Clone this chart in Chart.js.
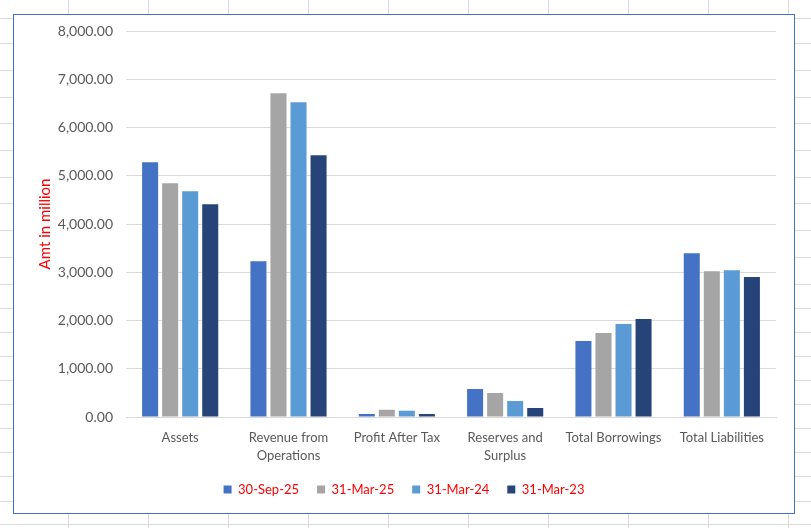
<!DOCTYPE html>
<html>
<head>
<meta charset="utf-8">
<script src="https://cdn.jsdelivr.net/npm/chart.js@4.4.1/dist/chart.umd.min.js"></script>
<style>
  html, body { margin: 0; padding: 0; background: #ffffff; }
  body { width: 811px; height: 528px; position: relative; overflow: hidden; }
  #sheet { position: absolute; left: 0; top: 0; }
  #box { position: absolute; left: 13px; top: 14px; width: 780px; height: 498px; border: 1px solid #4472C4; background: #ffffff; }
  #wrap { position: absolute; left: 0; top: 0; width: 780px; height: 498px; }
</style>
</head>
<body>
<canvas id="sheet" width="811" height="528"></canvas>
<div id="box"><div id="wrap"><canvas id="c"></canvas></div></div>
<script>
// ---- data ----
const categories = ['Assets', ['Revenue from', 'Operations'], 'Profit After Tax', ['Reserves and', 'Surplus'], 'Total Borrowings', 'Total Liabilities'];
const seriesNames = ['30-Sep-25', '31-Mar-25', '31-Mar-24', '31-Mar-23'];
const sep25 = [5280, 3230, 62, 580, 1573, 3395];
const mar25 = [4845, 6708, 150, 497, 1739, 3023];
const mar24 = [4679, 6522, 130, 331, 1925, 3043];
const mar23 = [4410, 5424, 62, 186, 2029, 2899];
const yMin = 0, yMax = 8000, yStep = 1000;
const yTitle = 'Amt in million';

// ---- spreadsheet background (decoration) ----
(function () {
  const s = document.getElementById('sheet').getContext('2d');
  s.strokeStyle = '#dadada';
  s.lineWidth = 1;
  const rows = [18, 43, 70, 97, 123, 150, 177, 203, 230, 257, 284, 308, 332, 356, 380, 404, 428, 452, 476, 501, 524];
  rows.forEach(y => { s.beginPath(); s.moveTo(0, y + 0.5); s.lineTo(811, y + 0.5); s.stroke(); });
  for (let x = 68; x < 811; x += 80) { s.beginPath(); s.moveTo(x + 0.5, 0); s.lineTo(x + 0.5, 528); s.stroke(); }
})();

const colors = ['#4472C4', '#A5A5A5', '#5B9BD5', '#264478'];
const seriesData = [sep25, mar25, mar24, mar23];

const FONT = 'Lato, "Open Sans", sans-serif';

new Chart(document.getElementById('c'), {
  type: 'bar',
  data: {
    labels: categories,
    datasets: seriesNames.map((n, i) => ({
      label: n,
      data: seriesData[i],
      backgroundColor: colors[i],
      borderWidth: 0,
      categoryPercentage: 0.74,
      barPercentage: 0.8
    }))
  },
  options: {
    responsive: true,
    maintainAspectRatio: false,
    animation: false,
    layout: { padding: { top: 16, right: 0, left: 0, bottom: 7 } },
    plugins: {
      legend: {
        position: 'bottom',
        labels: {
          boxWidth: 8, boxHeight: 8, padding: 18,
          color: '#FF0000',
          font: { family: FONT, size: 13 }
        }
      },
      tooltip: { enabled: false }
    },
    scales: {
      x: {
        grid: { display: false, drawTicks: false },
        border: { display: true, color: '#d9d9d9', width: 1 },
        ticks: { color: '#595959', font: { family: FONT, size: 13, lineHeight: 1.38 }, padding: 12, maxRotation: 0, autoSkip: false },
        afterFit: scale => { scale.height = 48; scale.paddingLeft = 0; scale.paddingRight = 0; }
      },
      y: {
        min: yMin, max: yMax,
        grid: { color: '#d9d9d9', lineWidth: 1, drawTicks: false },
        border: { display: false },
        ticks: {
          stepSize: yStep,
          color: '#595959',
          padding: 13,
          font: { family: FONT, size: 14 },
          callback: v => Number(v).toLocaleString('en-US', { minimumFractionDigits: 2, maximumFractionDigits: 2 })
        },
        title: { display: true, text: yTitle, color: '#FF0000', font: { family: FONT, size: 15 }, padding: { top: 22, bottom: 0 } },
        afterFit: scale => { scale.width = 112; scale.paddingTop = 0; scale.paddingBottom = 0; }
      },
      yRightSpace: {
        position: 'right',
        min: yMin, max: yMax,
        grid: { display: false, drawTicks: false },
        border: { display: false },
        ticks: { display: false },
        afterFit: scale => { scale.width = 18; scale.paddingTop = 0; scale.paddingBottom = 0; }
      }
    }
  }
});
</script>
</body>
</html>
